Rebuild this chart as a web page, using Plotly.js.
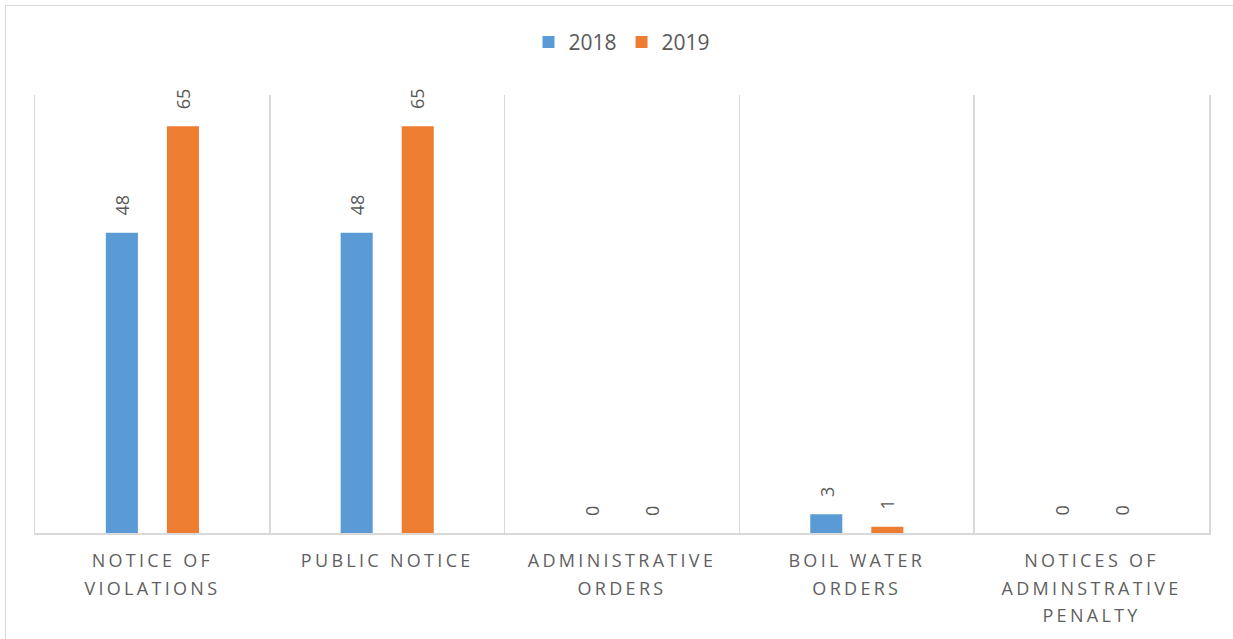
<!DOCTYPE html>
<html>
<head>
<meta charset="utf-8">
<script src="https://cdn.plot.ly/plotly-3.0.1.min.js"></script>
<style>
  html, body { margin: 0; padding: 0; background: #fff; overflow: hidden; }
  #wrap { position: relative; width: 1233px; height: 639px; }
  #chart { position: absolute; left: 0; top: 0; width: 1233px; height: 639px; }
  #frame { position: absolute; left: 5px; top: 5px; width: 1400px; height: 800px;
           border-top: 1.5px solid #d9d9d9; border-left: 1.5px solid #d9d9d9; pointer-events: none; }
  .xtick text { letter-spacing: 3.3px; }
</style>
</head>
<body>
<div id="wrap">
  <div id="chart"></div>
  <div id="frame"></div>
</div>
<script>
const categories = ["NOTICE OF<br>VIOLATIONS", "PUBLIC NOTICE", "ADMINISTRATIVE<br>ORDERS", "BOIL WATER<br>ORDERS", "NOTICES OF<br>ADMINSTRATIVE<br>PENALTY"];
const seriesNames = ["2018", "2019"];
const values2018 = [48, 48, 0, 3, 0];
const values2019 = [65, 65, 0, 1, 0];

const colors = ["#5B9BD5", "#ED7D31"];
const allSeries = [values2018, values2019];
const xshifts = [-30, 30];

const traces = allSeries.map((vals, i) => ({
  type: "bar",
  name: seriesNames[i],
  x: categories,
  y: vals,
  marker: { color: colors[i] },
  hoverinfo: "none"
}));

const annotations = [];
allSeries.forEach((vals, i) => {
  vals.forEach((v, j) => {
    annotations.push({
      x: categories[j], y: v, xref: "x", yref: "y",
      text: String(v), showarrow: false, textangle: -90,
      xanchor: "center", yanchor: "bottom", xshift: xshifts[i], yshift: 15,
      font: { family: "Open Sans", size: 18, color: "#595959" }
    });
  });
});

const layout = {
  width: 1233, height: 639,
  margin: { l: 35, r: 24, t: 95, b: 106 },
  paper_bgcolor: "rgba(0,0,0,0)",
  plot_bgcolor: "rgba(0,0,0,0)",
  barmode: "group",
  bargap: 0.48,
  bargroupgap: 0.475,
  showlegend: true,
  legend: {
    orientation: "h", x: 0.5, xanchor: "center", y: 1.12, yanchor: "middle",
    font: { family: "Open Sans", size: 21, color: "#595959" },
    itemwidth: 30
  },
  xaxis: {
    type: "category",
    tickson: "boundaries",
    showgrid: true, gridcolor: "#d9d9d9", gridwidth: 1.5,
    showline: true, linecolor: "#d9d9d9", linewidth: 1.5,
    ticks: "", ticklabelstandoff: 11,
    tickfont: { family: "Open Sans", size: 18, color: "#5f5f5f" },
    range: [-0.5, 4.5]
  },
  yaxis: {
    range: [0, 70],
    showgrid: false, zeroline: false, showticklabels: false, ticks: "",
    showline: true, mirror: true, linecolor: "#d9d9d9", linewidth: 1.5
  },
  annotations: annotations
};

Plotly.newPlot("chart", traces, layout, { displayModeBar: false, staticPlot: true }).then(() => {
  // widen line spacing of multi-line category labels (Excel-like)
  document.querySelectorAll(".xtick text tspan.line").forEach(t => {
    const dy = t.getAttribute("dy");
    if (dy && dy.endsWith("em")) {
      const v = parseFloat(dy);
      if (v) t.setAttribute("dy", (v * 1.53 / 1.3) + "em");
    }
  });
});
</script>
</body>
</html>
